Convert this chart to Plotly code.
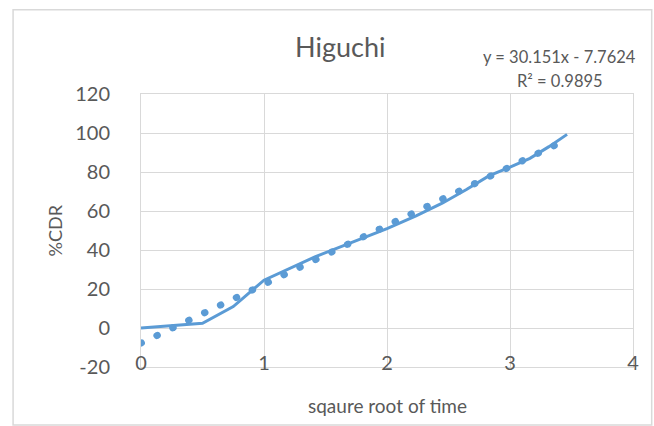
import plotly.graph_objects as go

# Higuchi release model: cumulative drug release vs square root of time
sqrt_time = [0, 0.5, 0.75, 1.0, 1.414, 1.732, 2.0, 2.236, 2.449, 2.646, 2.828, 3.0, 3.162, 3.317, 3.464]
cdr_percent = [0, 2.4, 11, 24.5, 36.5, 44.5, 51, 57.5, 64, 71, 78, 82.5, 87, 93, 99.3]

# Linear trendline as reported on the chart
slope = 30.151
intercept = -7.7624
r_squared = 0.9895

x_ticks = [0, 1, 2, 3, 4]
y_ticks = [-20, 0, 20, 40, 60, 80, 100, 120]

BLUE = "#5B9BD5"
GRID = "#D9D9D9"
TEXT = "#595959"
FONT = "Lato"

trend_x = [min(sqrt_time), max(sqrt_time)]
trend_y = [slope * x + intercept for x in trend_x]

fig = go.Figure()
fig.add_trace(go.Scatter(
    x=sqrt_time, y=cdr_percent, mode="lines",
    line=dict(color=BLUE, width=3), showlegend=False, hoverinfo="skip",
))
fig.add_trace(go.Scatter(
    x=trend_x, y=trend_y, mode="lines",
    line=dict(color=BLUE, width=7, dash="0.5px,17.1px"),
    showlegend=False, hoverinfo="skip",
))

fig.update_layout(
    width=654, height=426,
    margin=dict(l=141, r=21, t=94, b=59),
    paper_bgcolor="white", plot_bgcolor="white",
    font=dict(family=FONT, color=TEXT),
    xaxis=dict(
        range=[0, 4], tickvals=x_ticks, ticktext=[str(v) for v in x_ticks],
        showgrid=True, gridcolor=GRID, gridwidth=1,
        zeroline=False, showline=True, mirror=True, linecolor=GRID, linewidth=1,
        ticks="", ticklabelstandoff=-22, tickfont=dict(size=20, color=TEXT),
    ),
    yaxis=dict(
        range=[-20, 120], tickvals=y_ticks, ticktext=[str(v) for v in y_ticks],
        showgrid=True, gridcolor=GRID, gridwidth=1,
        zeroline=False, showline=True, mirror=True, linecolor=GRID, linewidth=1,
        ticks="", ticklabelstandoff=26, tickfont=dict(size=20, color=TEXT),
    ),
    shapes=[dict(
        type="rect", xref="paper", yref="paper",
        x0=-0.26, x1=1.038, y0=-0.212, y1=1.309,
        line=dict(color=GRID, width=1.5), fillcolor="rgba(0,0,0,0)", layer="below",
    )],
    annotations=[
        dict(text="Higuchi", xref="paper", yref="paper", x=0.4045, y=1.174,
             showarrow=False, font=dict(size=27, color=TEXT), xanchor="center", yanchor="middle"),
        dict(text=f"y = {slope}x - {abs(intercept)}", xref="paper", yref="paper",
             x=0.8516, y=1.137, showarrow=False, font=dict(size=16.5, color=TEXT),
             xanchor="center", yanchor="middle"),
        dict(text=f"R² = {r_squared}", xref="paper", yref="paper",
             x=0.8516, y=1.049, showarrow=False, font=dict(size=16.5, color=TEXT),
             xanchor="center", yanchor="middle"),
        dict(text="%CDR", xref="paper", yref="paper", x=-0.175, y=0.5, textangle=-90,
             showarrow=False, font=dict(size=18, color=TEXT), xanchor="center", yanchor="middle"),
        dict(text="sqaure root of time", xref="paper", yref="paper", x=0.502, y=-0.141,
             showarrow=False, font=dict(size=19, color=TEXT), xanchor="center", yanchor="middle"),
    ],
)

# Round caps turn the near-zero dashes of the trendline into dots
round_dots = (
    "var s=document.createElement('style');"
    "s.textContent='.scatterlayer .trace:nth-child(2) path.js-line{stroke-linecap:round}';"
    "document.head.appendChild(s);"
)

fig.write_html("out.html", post_script=round_dots)
